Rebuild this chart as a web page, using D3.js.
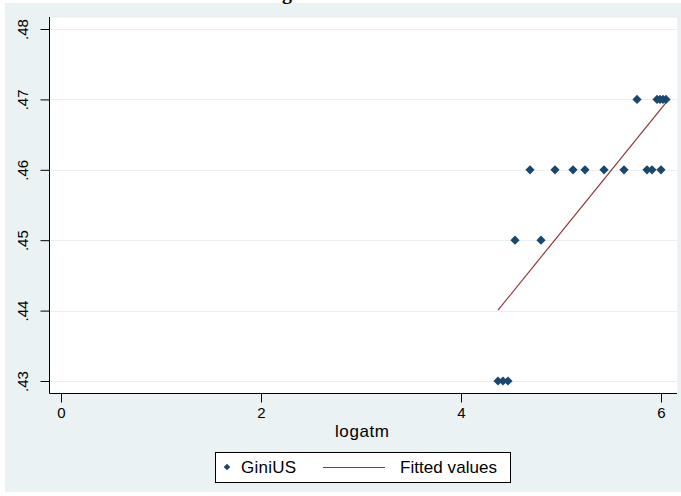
<!DOCTYPE html>
<html>
<head>
<meta charset="utf-8">
<script src="https://cdn.jsdelivr.net/npm/d3@7/dist/d3.min.js"></script>
<style>
  html, body { margin: 0; padding: 0; background: #ffffff; }
  svg { display: block; }
  text { font-family: "Liberation Sans", Arial, sans-serif; fill: #000; }
</style>
</head>
<body>
<script>
// GiniUS observations against logatm
const logatm = [4.37, 4.42, 4.47, 4.54, 4.80, 4.69, 4.94, 5.12, 5.24, 5.43, 5.63, 5.86, 5.91, 6.00, 5.76, 5.96, 5.99, 6.02, 6.05];
const giniUS = [0.43, 0.43, 0.43, 0.45, 0.45, 0.46, 0.46, 0.46, 0.46, 0.46, 0.46, 0.46, 0.46, 0.46, 0.47, 0.47, 0.47, 0.47, 0.47];
const xTicks = [0, 2, 4, 6];
const yTicks = [0.43, 0.44, 0.45, 0.46, 0.47, 0.48];
const yTickLabels = [".43", ".44", ".45", ".46", ".47", ".48"];
const legendLabels = ["GiniUS", "Fitted values"];

const W = 681, H = 496;
const navy = "#1a476f", maroon = "#90353b", bg = "#eaf2f3";

const svg = d3.select("body").append("svg").attr("width", W).attr("height", H);

// outer graph region
svg.append("rect").attr("x", 5).attr("y", 3).attr("width", W - 5).attr("height", H - 7).attr("fill", bg);

// title, mostly above the frame
svg.append("text").attr("x", 287).attr("y", -1).attr("text-anchor", "middle")
  .style("font-family", "'Liberation Serif', serif").style("font-weight", "bold").style("font-size", "20px")
  .text("g");

const plot = { left: 49.5, right: 677, top: 17, bottom: 393.5 };

// tick positions: 0 -> 61, 6 -> 661 ; .48 -> 29, .43 -> 381
const x = d3.scaleLinear()
  .domain([(plot.left - 61) / 100, (plot.right - 61) / 100])
  .range([plot.left, plot.right]);
const y = d3.scaleLinear()
  .domain([0.43 - (plot.bottom - 381) / 7040, 0.48 + (29 - plot.top) / 7040])
  .range([plot.bottom, plot.top]);

// plot region
svg.append("rect").attr("x", plot.left).attr("y", plot.top)
  .attr("width", plot.right - plot.left + 1).attr("height", plot.bottom - plot.top)
  .attr("fill", "#ffffff").attr("stroke", "#e3ebeb").attr("stroke-width", 1);

// horizontal grid
svg.append("g").selectAll("line").data(yTicks).join("line")
  .attr("x1", plot.left).attr("x2", plot.right)
  .attr("y1", d => Math.round(y(d)) + 0.5).attr("y2", d => Math.round(y(d)) + 0.5)
  .attr("stroke", "#eaf0f0").attr("stroke-width", 1);

// y axis
const yAxis = d3.axisLeft(y).tickValues(yTicks).tickSize(9).tickPadding(6)
  .tickFormat((d, i) => yTickLabels[i]);
const gy = svg.append("g").attr("transform", `translate(${plot.left},0)`).call(yAxis);
gy.select(".domain").attr("stroke", "#000").attr("d", `M0,${plot.top}V${plot.bottom}`);
gy.selectAll(".tick line").attr("stroke", "#000");
gy.selectAll(".tick text")
  .attr("x", 0).attr("dy", 0)
  .attr("transform", "translate(-22,0) rotate(-90)")
  .attr("text-anchor", "middle")
  .style("font-size", "15px");

// x axis
const xAxis = d3.axisBottom(x).tickValues(xTicks).tickSize(9).tickPadding(5).tickFormat(d3.format("d"));
const gx = svg.append("g").attr("transform", `translate(0,${plot.bottom})`).call(xAxis);
gx.select(".domain").attr("stroke", "#000").attr("d", `M${plot.left},0H${plot.right}`);
gx.selectAll(".tick line").attr("stroke", "#000");
gx.selectAll(".tick text").style("font-size", "15px");

svg.append("text").attr("x", 362).attr("y", 437).attr("text-anchor", "middle")
  .style("font-size", "17px").attr("textLength", 54).text("logatm");

// linear fit of GiniUS on logatm
const mx = d3.mean(logatm), my = d3.mean(giniUS);
let sxy = 0, sxx = 0;
logatm.forEach((v, i) => { sxy += (v - mx) * (giniUS[i] - my); sxx += (v - mx) * (v - mx); });
const slope = sxy / sxx, intercept = my - slope * mx;
const [xmin, xmax] = d3.extent(logatm);
const fitted = [xmin, xmax].map(v => ({ x: v, y: intercept + slope * v }));

svg.append("path").datum(fitted)
  .attr("d", d3.line().x(d => x(d.x)).y(d => y(d.y)))
  .attr("fill", "none").attr("stroke", maroon).attr("stroke-width", 1.2);

// square diamond marker
const diamondPath = r => `M0,${-r}L${r},0L0,${r}L${-r},0Z`;

svg.append("g").selectAll("path").data(logatm).join("path")
  .attr("d", diamondPath(4.6))
  .attr("transform", (d, i) => `translate(${x(d)},${y(giniUS[i])})`)
  .attr("fill", navy);

// legend
const lg = svg.append("g");
lg.append("rect").attr("x", 215.5).attr("y", 452.5).attr("width", 295).attr("height", 30)
  .attr("fill", "#fff").attr("stroke", "#000").attr("stroke-width", 1);
lg.append("path").attr("d", diamondPath(3.3))
  .attr("transform", "translate(227,467)").attr("fill", navy);
lg.append("text").attr("x", 241).attr("y", 473).style("font-size", "17px")
  .attr("textLength", 55).text(legendLabels[0]);
lg.append("line").attr("x1", 323).attr("x2", 385).attr("y1", 467.5).attr("y2", 467.5)
  .attr("stroke", maroon).attr("stroke-width", 1.2);
lg.append("text").attr("x", 400).attr("y", 473).style("font-size", "17px")
  .attr("textLength", 97).text(legendLabels[1]);
</script>
</body>
</html>
